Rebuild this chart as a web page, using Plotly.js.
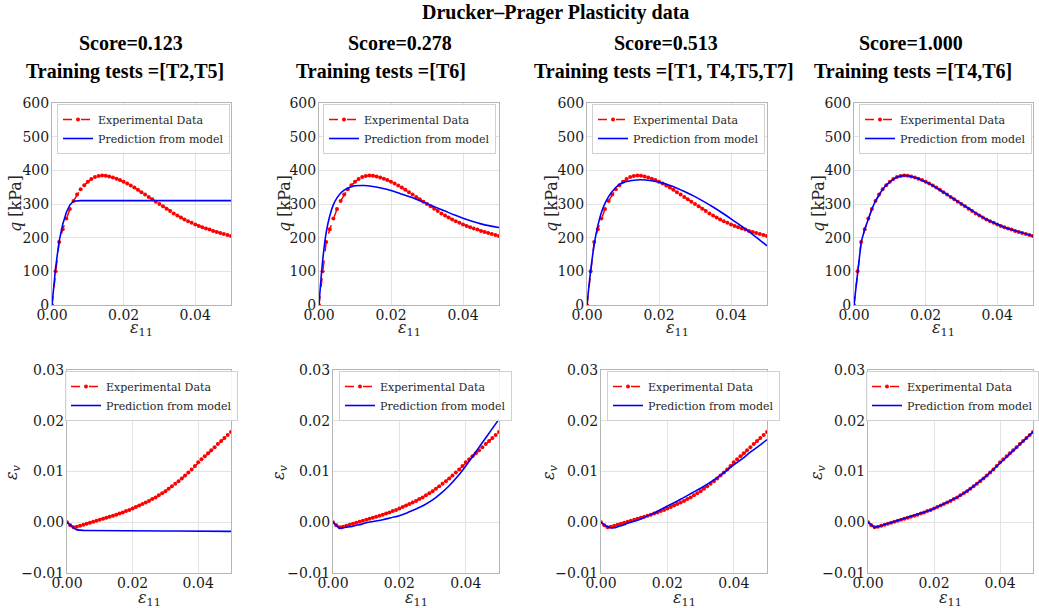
<!DOCTYPE html>
<html>
<head>
<meta charset="utf-8">
<script src="https://cdn.plot.ly/plotly-3.0.1.min.js"></script>
<style>html,body{margin:0;padding:0;background:#fff;overflow:hidden;}#chart{width:1039px;height:608px;}</style>
</head>
<body>
<div id="chart"></div>
<script>
// ---------------- DATA ----------------
const mainTitle = "Drucker–Prager Plasticity data";
const scores = ["Score=0.123", "Score=0.278", "Score=0.513", "Score=1.000"];
const trainingTests = ["Training tests =[T2,T5]", "Training tests =[T6]", "Training tests =[T1, T4,T5,T7]", "Training tests =[T4,T6]"];
const legendNames = ["Experimental Data", "Prediction from model"];

// experimental axial strain (eps11)
const strainExp = [0,0.001,0.002,0.003,0.004,0.005,0.006,0.007,0.008,0.009,0.010,
  0.011,0.012,0.013,0.014,0.015,0.016,0.017,0.018,0.019,0.020,
  0.021,0.022,0.023,0.024,0.025,0.026,0.027,0.028,0.029,0.030,
  0.031,0.032,0.033,0.034,0.035,0.036,0.037,0.038,0.039,0.040,
  0.041,0.042,0.043,0.044,0.045,0.046,0.047,0.048,0.049,0.050];
// experimental deviatoric stress q [kPa]
const qExp = [0,100,187,225,257,285,309,328,344,356,366,
  374,380,383,385,384,382,379,375,371,366,
  361,355,349,342,335,328,321,314,307,300,
  293,286,279,272,266,260,254,249,244,239,
  235,231,227,224,220,217,214,211,208,205];
// experimental volumetric strain
const evExp = [0,-0.0006,-0.0010,-0.0009,-0.0007,-0.0005,-0.0003,-0.0001,0.0001,0.0003,0.0005,
  0.0007,0.0009,0.0011,0.0013,0.0015,0.0017,0.0019,0.0022,0.0024,0.0027,
  0.0030,0.0033,0.0036,0.0039,0.0042,0.0046,0.0049,0.0053,0.0057,0.0061,
  0.0066,0.0071,0.0076,0.0081,0.0086,0.0092,0.0098,0.0104,0.0111,0.0118,
  0.0124,0.0130,0.0136,0.0142,0.0148,0.0154,0.0160,0.0166,0.0172,0.0178];

// model strain grid
const strainModel = [0,0.001,0.002,0.003,0.004,0.005,0.006,0.007,0.008,0.009,0.010,
  0.0125,0.015,0.0175,0.020,0.0225,0.025,0.0275,0.030,0.0325,0.035,0.0375,0.040,0.0425,0.045,0.0475,0.050];

const qModel1 = [0,110,190,240,275,297,308,310,310,310,310,
  310,310,310,310,310,310,310,310,310,310,310,310,310,310,310,310];
const qModel2 = [0,130,215,265,298,318,332,341,347,351,354,
  355,352,347,340,331,322,312,301,290,279,268,258,249,241,235,230];
const qModel3 = [0,100,180,235,275,302,322,337,349,358,364,
  370,372,370,365,357,347,335,322,307,291,274,256,237,218,197,176];
const qModel4 = qExp;

const evModel1 = [0,-0.0006,-0.0011,-0.0015,-0.00160,-0.00161,-0.00162,-0.00163,-0.00163,-0.00164,-0.00164,
  -0.00165,-0.00166,-0.00167,-0.00168,-0.00169,-0.00170,-0.00171,-0.00172,-0.00173,-0.00174,-0.00175,-0.00176,-0.00177,-0.00178,-0.00179,-0.00180];
const evModel2 = [0,-0.0006,-0.0012,-0.0011,-0.0010,-0.0009,-0.0008,-0.0006,-0.0005,-0.0003,-0.0001,
  0.0002,0.0005,0.0009,0.0013,0.0019,0.0026,0.0034,0.0044,0.0057,0.0072,0.0090,0.0111,0.0134,0.0157,0.0180,0.0203];
const evModel3 = [0,-0.0005,-0.0009,-0.0011,-0.0011,-0.0009,-0.0007,-0.0005,-0.0002,0.0000,0.0002,
  0.0008,0.0015,0.0023,0.0032,0.0040,0.0049,0.0058,0.0067,0.0077,0.0088,0.0100,0.0113,0.0125,0.0138,0.0150,0.0163];
const evModel4 = evExp;

const xTickVals = [0, 0.02, 0.04];
const qTickVals = [0,100,200,300,400,500,600];
const evTickVals = [-0.01,0,0.01,0.02,0.03];

// ---------------- LAYOUT HELPERS ----------------
const W = 1039, H = 608;
const px = v => v / W;
const py = v => 1 - v / H;

const topX = [[52,231],[319,499],[587,767],[854,1033]];
const botX = [[67,231],[333,499],[601,767],[868,1033]];
const topY = [103,305];
const botY = [370,573];

const topLegend = [[57,104],[323,104],[592,104],[859,104]];
const botLegend = [[65,371],[339,371],[607,371],[874,371]];
const topYLabelX = [15,284,551,818];
const botYLabelX = [12,279,549,817];
const scoreX = [131,400,666,911];
const trainX = [125,381,664,913];

const qModels = [qModel1,qModel2,qModel3,qModel4];
const evModels = [evModel1,evModel2,evModel3,evModel4];
const modelX = [strainModel,strainModel,strainModel,strainExp];
const modelShape = ['linear','spline','spline','linear'];

const serif = "DejaVu Serif";
const tickFont = {family: serif, size: 14, color: '#1a1a1a'};
const gridColor = '#e3e3e3';
const lineColor = '#b5b5b5';

const traces = [];
const layout = {
  width: W, height: H,
  margin: {l:0, r:0, t:0, b:0, autoexpand: false},
  paper_bgcolor: '#ffffff', plot_bgcolor: '#ffffff',
  font: {family: serif, color: '#262626'},
  showlegend: true,
  annotations: []
};

function axisBase(domain, anchor) {
  return {
    domain: domain, anchor: anchor,
    showline: true, linecolor: lineColor, linewidth: 1, mirror: true,
    showgrid: true, gridcolor: gridColor, gridwidth: 1,
    zeroline: false, ticks: '', tickfont: tickFont, fixedrange: true,
    automargin: false
  };
}

for (let c = 0; c < 4; c++) {
  for (let r = 0; r < 2; r++) {
    const n = r * 4 + c + 1;
    const xa = n === 1 ? 'xaxis' : 'xaxis' + n;
    const ya = n === 1 ? 'yaxis' : 'yaxis' + n;
    const xr = 'x' + (n === 1 ? '' : n);
    const yr = 'y' + (n === 1 ? '' : n);
    const lg = n === 1 ? 'legend' : 'legend' + n;
    const xd = r === 0 ? topX[c] : botX[c];
    const yd = r === 0 ? topY : botY;

    layout[xa] = Object.assign(axisBase([px(xd[0]), px(xd[1])], yr), {
      range: [0, 0.05], tickvals: xTickVals, tickformat: '.2f', ticklabelstandoff: -3
    });
    layout[ya] = Object.assign(axisBase([py(yd[1]), py(yd[0])], xr), {
      range: r === 0 ? [0, 600] : [-0.01, 0.03],
      tickvals: r === 0 ? qTickVals : evTickVals,
      tickformat: r === 0 ? 'd' : '.2f', ticklabelstandoff: -1
    });

    const yExp = r === 0 ? qExp : evExp;
    const yMod = r === 0 ? qModels[c] : evModels[c];
    traces.push({
      type: 'scatter', mode: 'lines+markers', x: strainExp, y: yExp,
      xaxis: xr, yaxis: yr, legend: lg, name: legendNames[0],
      line: {color: '#ff0000', width: 1.5, dash: 'dash'},
      marker: {color: '#ff0000', size: 4}
    });
    traces.push({
      type: 'scatter', mode: 'lines', x: modelX[c], y: yMod,
      xaxis: xr, yaxis: yr, legend: lg, name: legendNames[1],
      line: {color: '#0000ff', width: 1.6, shape: modelShape[c]}
    });

    const lp = r === 0 ? topLegend[c] : botLegend[c];
    const isEdge = (c === 3 && r === 1);
    layout[lg] = {
      x: isEdge ? 1 : px(lp[0]), y: py(lp[1]),
      xanchor: isEdge ? 'right' : 'left', yanchor: 'top',
      xref: 'paper', yref: 'paper',
      bgcolor: 'rgba(255,255,255,0.85)', bordercolor: '#d0d0d0', borderwidth: 1,
      font: {family: serif, size: 11, color: '#262626'},
      itemwidth: 30, tracegroupgap: 0
    };

    // axis labels
    const cx = (xd[0] + xd[1]) / 2;
    layout.annotations.push({
      xref: 'paper', yref: 'paper', x: px(cx), y: py(r === 0 ? 329 : 598),
      xanchor: 'center', yanchor: 'middle', showarrow: false,
      text: '<i>ε</i><sub>11</sub>', font: {family: serif, size: 16, color: '#262626'}
    });
    layout.annotations.push({
      xref: 'paper', yref: 'paper',
      x: px(r === 0 ? topYLabelX[c] : botYLabelX[c]),
      y: py(r === 0 ? 204 : 472),
      xanchor: 'center', yanchor: 'middle', showarrow: false, textangle: -90,
      text: r === 0 ? '<i>q</i> [kPa]' : '<i>ε<sub>v</sub></i>',
      font: {family: serif, size: 16, color: '#262626'}
    });
  }
  // subplot titles
  layout.annotations.push({
    xref: 'paper', yref: 'paper', x: px(scoreX[c]), y: py(43),
    xanchor: 'center', yanchor: 'middle', showarrow: false,
    text: '<b>' + scores[c] + '</b>',
    font: {family: 'Liberation Serif', size: 20, color: '#000'}
  });
  layout.annotations.push({
    xref: 'paper', yref: 'paper', x: px(trainX[c]), y: py(71),
    xanchor: 'center', yanchor: 'middle', showarrow: false,
    text: '<b>' + trainingTests[c] + '</b>',
    font: {family: 'Liberation Serif', size: 20, color: '#000'}
  });
}
layout.annotations.push({
  xref: 'paper', yref: 'paper', x: px(555), y: py(12),
  xanchor: 'center', yanchor: 'middle', showarrow: false,
  text: '<b>' + mainTitle + '</b>',
  font: {family: 'Liberation Serif', size: 20, color: '#000'}
});

Plotly.newPlot('chart', traces, layout, {displayModeBar: false, staticPlot: true});
</script>
</body>
</html>
